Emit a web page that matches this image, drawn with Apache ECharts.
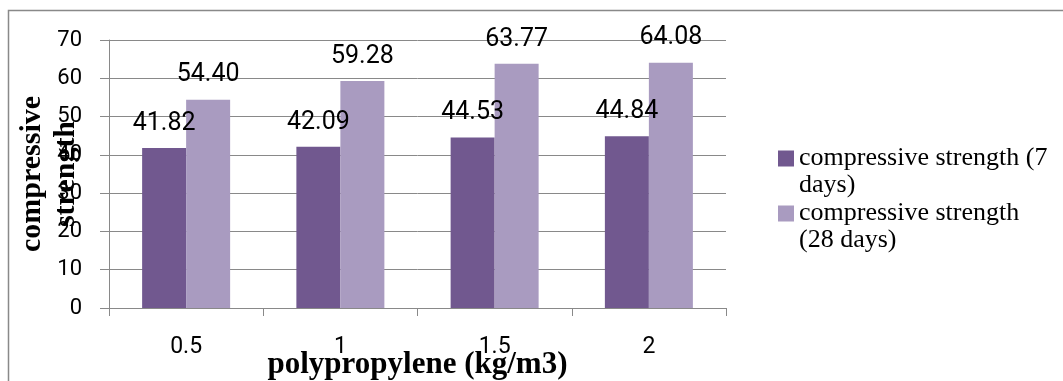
<!DOCTYPE html>
<html>
<head>
<meta charset="utf-8">
<script src="https://cdn.jsdelivr.net/npm/echarts@6/dist/echarts.min.js"></script>
<style>
html,body{margin:0;padding:0;background:#fff;}
#chart{width:1063px;height:381px;}
</style>
</head>
<body>
<div id="chart"></div>
<script>
const categories = ['0.5', '1', '1.5', '2'];
const seriesNames = ['compressive strength (7 days)', 'compressive strength (28 days)'];
const strength7 = [41.82, 42.09, 44.53, 44.84];
const strength28 = [54.40, 59.28, 63.77, 64.08];
const yTicks = { min: 0, max: 70, interval: 10 };
const xTitle = 'polypropylene (kg/m3)';
const yTitle = 'compressive\nstrength';

const numFont = 'Roboto, sans-serif';
const serif = '"Liberation Serif", "Times New Roman", serif';
const gray = '#898989';
const dark = '#71588F';
const light = '#A99BC0';

const chart = echarts.init(document.getElementById('chart'), null, { renderer: 'canvas' });

const valueLabel = {
  show: true,
  position: 'top',
  distance: 12,
  color: '#000',
  fontFamily: numFont,
  fontSize: 25,
  formatter: p => Number(p.value).toFixed(2)
};

const legendText = {
  fontFamily: serif,
  fontSize: 26,
  lineHeight: 27,
  color: '#000',
  width: 255,
  overflow: 'break'
};
// square on top of a taller item box so the marker lines up with the first text line
const legendIcon = 'path://M0,0H16V16H0Z M0,43L0.01,43';

chart.setOption({
  animation: false,
  backgroundColor: '#fff',
  graphic: [{
    type: 'polyline',
    shape: { points: [[8.5, 400], [8.5, 10.5], [1070, 10.5]] },
    style: { stroke: gray, lineWidth: 1.5, fill: null },
    silent: true
  }],
  grid: { left: 109, right: 337, top: 40, bottom: 73, containLabel: false, outerBoundsMode: 'none' },
  legend: [
    {
      data: [seriesNames[0]], orient: 'vertical', left: 778, top: 145,
      itemWidth: 16, itemHeight: 43, itemGap: 0, padding: 0,
      icon: legendIcon, textStyle: legendText
    },
    {
      data: [seriesNames[1]], orient: 'vertical', left: 778, top: 200,
      itemWidth: 16, itemHeight: 43, itemGap: 0, padding: 0,
      icon: legendIcon, textStyle: legendText
    }
  ],
  xAxis: {
    type: 'category',
    data: categories,
    name: xTitle,
    nameLocation: 'middle',
    nameGap: 42,
    nameMoveOverlap: false,
    nameTextStyle: { fontFamily: serif, fontWeight: 'bold', fontSize: 31, lineHeight: 30, color: '#000' },
    axisLine: { lineStyle: { color: gray, width: 1 } },
    axisTick: { show: true, length: 8, lineStyle: { color: gray } },
    axisLabel: { margin: 28, color: '#000', fontFamily: numFont, fontSize: 23 }
  },
  yAxis: {
    type: 'value',
    min: yTicks.min, max: yTicks.max, interval: yTicks.interval,
    name: yTitle,
    nameLocation: 'middle',
    nameRotate: 90,
    nameGap: 26,
    nameMoveOverlap: false,
    nameTextStyle: { fontFamily: serif, fontWeight: 'bold', fontSize: 30, lineHeight: 34, color: '#000', align: 'center' },
    axisLine: { show: true, lineStyle: { color: gray, width: 1 } },
    axisTick: { show: true, length: 9, lineStyle: { color: gray } },
    splitLine: { show: true, lineStyle: { color: gray, width: 1 } },
    axisLabel: { margin: 27, color: '#000', fontFamily: numFont, fontSize: 22 }
  },
  series: [
    {
      name: seriesNames[0], type: 'bar', data: strength7,
      barWidth: 44, barGap: '0%',
      itemStyle: { color: dark },
      label: valueLabel
    },
    {
      name: seriesNames[1], type: 'bar', data: strength28,
      barWidth: 44, barGap: '0%',
      itemStyle: { color: light },
      label: valueLabel
    }
  ]
});
</script>
</body>
</html>
